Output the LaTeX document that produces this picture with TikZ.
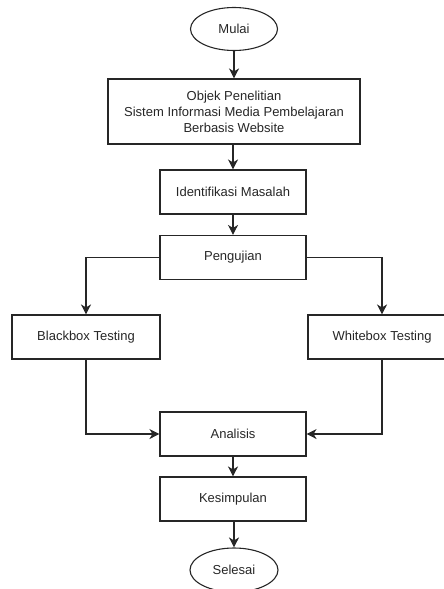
\documentclass[tikz,border=0pt]{standalone}
\usepackage{fontspec}
\setmainfont{Liberation Sans}
\usetikzlibrary{arrows.meta,shapes.geometric}
\begin{document}
\begin{tikzpicture}[x=1pt,y=-1pt,
  flow/.style={line width=1.1pt,black!85,-{Stealth[length=10pt,width=10pt,inset=3pt]}},
  stepbox/.style={draw=black!85,line width=1.1pt,minimum width=146pt,minimum height=44pt,inner sep=0pt,font=\fontsize{13}{16}\selectfont,text=black!85,align=center},
  terminal/.style={draw=black!85,line width=1.1pt,ellipse,minimum width=87pt,minimum height=43pt,inner sep=0pt,font=\fontsize{13}{16}\selectfont,text=black!85}]
  \useasboundingbox (0,0) rectangle (444,589);
  \node [terminal] (mulai) at (234,29) {Mulai};
  \node [stepbox,minimum width=252pt,minimum height=65pt] (objek) at (234,111.5) {Objek Penelitian\\Sistem Informasi Media Pembelajaran\\Berbasis Website};
  \node [stepbox] (identifikasi) at (233,192) {Identifikasi Masalah};
  \node [stepbox] (pengujian) at (233,257.5) {Pengujian};
  \node [stepbox,minimum width=148pt] (blackbox) at (86,337) {Blackbox Testing};
  \node [stepbox,minimum width=148pt] (whitebox) at (382,337) {Whitebox Testing};
  \node [stepbox] (analisis) at (233,434) {Analisis};
  \node [stepbox] (kesimpulan) at (233,499) {Kesimpulan};
  \node [terminal,minimum width=88pt,minimum height=44pt] (selesai) at (234,570) {Selesai};
  \draw [flow] (mulai) -- (objek);
  \draw [flow] (objek.south -| identifikasi) -- (identifikasi);
  \draw [flow] (identifikasi) -- (pengujian);
  \draw [flow] (pengujian.west) -| (blackbox.north);
  \draw [flow] (pengujian.east) -| (whitebox.north);
  \draw [flow] (blackbox.south) |- (analisis.west);
  \draw [flow] (whitebox.south) |- (analisis.east);
  \draw [flow] (analisis) -- (kesimpulan);
  \draw [flow] (kesimpulan.south -| selesai) -- (selesai);
\end{tikzpicture}
\end{document}
